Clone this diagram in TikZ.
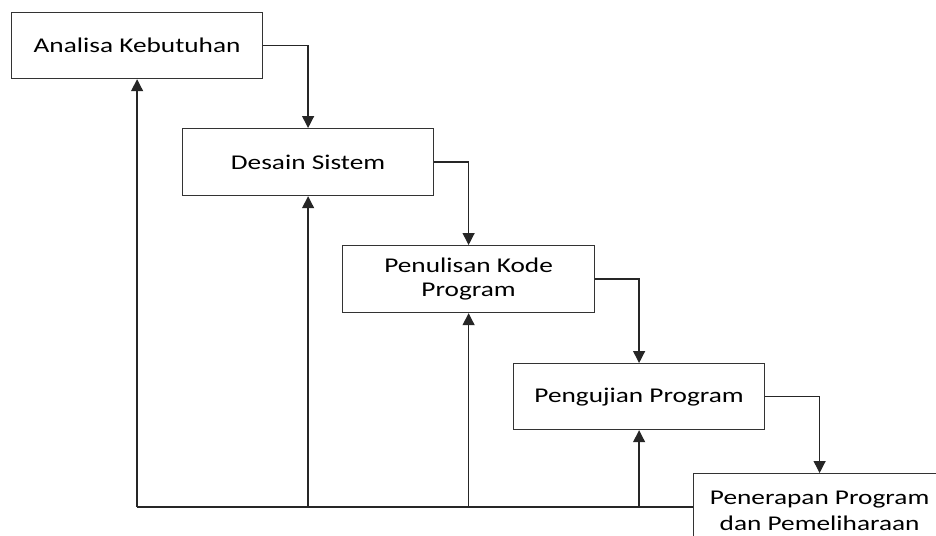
\documentclass[tikz,border=0pt]{standalone}
\usepackage{fontspec}
\setmainfont{Carlito}[FakeStretch=1.3]
\usetikzlibrary{arrows.meta}
\begin{document}
\begin{tikzpicture}[x=1pt,y=-1pt,
  box/.style={draw=black!80, line width=1.2pt, fill=white, minimum width=251pt, minimum height=66pt,
    inner sep=0pt, anchor=north west, font=\fontsize{21}{24}\selectfont, align=center},
  line/.style={line width=1.3pt, draw=black!85},
  conn/.style={line, -{Triangle[width=12pt,length=12pt]}}]
\useasboundingbox (0,0) rectangle (936,535);
\clip (0,0) rectangle (936,535);
\node[box] (b1) at (11,12) {Analisa Kebutuhan};
\node[box, minimum height=67pt] (b2) at (182,128) {Desain Sistem};
\node[box, minimum width=252pt, minimum height=67pt] (b3) at (342,245) {Penulisan Kode\\Program};
\node[box] (b4) at (513,363) {Pengujian Program};
\node[box, minimum width=252pt, minimum height=74pt, font=\fontsize{21}{26}\selectfont] (b5) at (693,473) {Penerapan Program\\dan Pemeliharaan};
\draw[conn] (b1.east) -| (b2.north);
\draw[conn] (b2.east) -| (b3.north);
\draw[conn] (b3.east) -| (b4.north);
\draw[conn] (b4.east) -| (b5.north);
\coordinate (base) at (0,507);
\coordinate (fbs) at (b5.west |- base);
\coordinate (fb1) at (b1.south |- base);
\coordinate (fb2) at (b2.south |- base);
\coordinate (fb3) at (b3.south |- base);
\coordinate (fb4) at (b4.south |- base);
\draw[line] (fbs) -- (fb1);
\draw[conn] (fb1) -- (b1.south);
\draw[conn] (fb2) -- (b2.south);
\draw[conn] (fb3) -- (b3.south);
\draw[conn] (fb4) -- (b4.south);
\end{tikzpicture}
\end{document}
